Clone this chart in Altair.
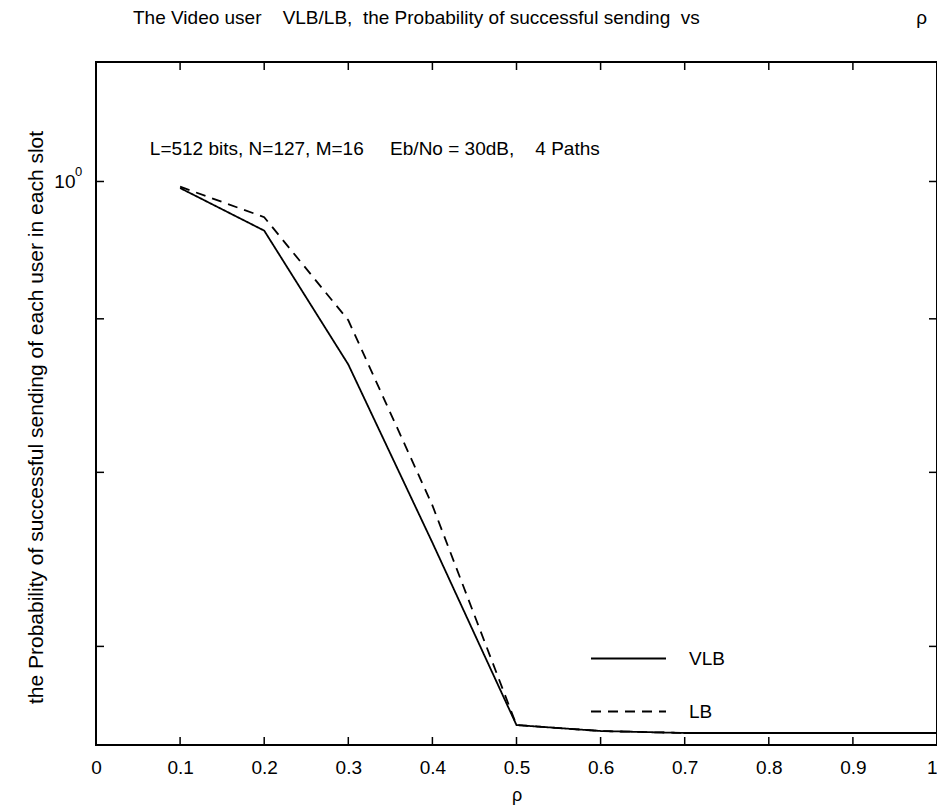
import altair as alt
import pandas as pd

# ---- data ----
rho = [0.1, 0.2, 0.3, 0.4, 0.5, 0.6, 0.7, 0.8, 0.9, 1.0]
vlb = [0.995, 0.963, 0.869, 0.758, 0.659, 0.656, 0.655, 0.655, 0.655, 0.655]
lb = [0.996, 0.973, 0.899, 0.780, 0.659, 0.656, 0.655, 0.655, 0.655, 0.655]
series_names = ["VLB", "LB"]
x_tick_values = [0, 0.1, 0.2, 0.3, 0.4, 0.5, 0.6, 0.7, 0.8, 0.9, 1.0]
x_inner_ticks = [0.1, 0.2, 0.3, 0.4, 0.5, 0.6, 0.7, 0.8, 0.9]
y_tick_values = [0.7, 0.8, 0.9, 1.0]
y_label_values = [1.0]

NB = "\u00a0"
title_text = ("The Video user" + NB * 3 + " VLB/LB," + NB + " the Probability of successful sending"
              + NB + " vs" + NB * 40 + " ρ")
note_text = "L=512 bits, N=127, M=16" + NB * 4 + " Eb/No = 30dB," + NB * 3 + " 4 Paths"
y_title = "the Probability of successful sending of each user in each slot"

W, H = 841, 683
FONT = "Liberation Sans"

df = pd.DataFrame({
    "rho": rho * 2,
    "p": vlb + lb,
    "series": ["VLB"] * len(rho) + ["LB"] * len(rho),
})
xt_df = pd.DataFrame({"rho": x_inner_ticks})
yt_df = pd.DataFrame({"p": y_tick_values})
yl_df = pd.DataFrame({"p": y_label_values, "sup": ["0"]})
note_df = pd.DataFrame({"rho": [0.064], "p": [1.025], "txt": [note_text]})

xscale = alt.Scale(domain=[0, 1], nice=False, zero=False)
yscale = alt.Scale(type="log", domain=[0.649, 1.096], nice=False)

dash_scale = alt.Scale(domain=series_names, range=[[1, 0], [10, 7]])

x_enc = alt.X("rho:Q", scale=xscale,
              axis=alt.Axis(values=x_tick_values, format=".1~f", title="ρ",
                            domain=False, ticks=False, grid=False,
                            labelFont=FONT, labelFontSize=19, labelColor="black",
                            labelAlign={"condition": {"test": "datum.value >= 1", "value": "right"},
                                        "value": "center"},
                            labelPadding=13, titleFont=FONT, titleFontSize=18,
                            titleFontWeight="normal", titleColor="black",
                            titlePadding=9, labelFlush=False))
y_enc = alt.Y("p:Q", scale=yscale,
              axis=alt.Axis(values=y_label_values, labelExpr="'10'", title=y_title,
                            domain=False, ticks=False, grid=False,
                            labelFont=FONT, labelFontSize=19, labelColor="black",
                            labelPadding=21, titleFont=FONT, titleFontSize=21,
                            titleFontWeight="normal", titleColor="black",
                            titlePadding=7, titleY=355))

legend = alt.Legend(title=None, orient="none", legendX=494, legendY=558,
                    symbolType="stroke", symbolSize=5625, symbolStrokeWidth=1.8,
                    symbolStrokeColor="black", labelFont=FONT, labelFontSize=19,
                    labelColor="black", labelOffset=22, rowPadding=4,
                    direction="vertical")

lb_line = alt.Chart(df).transform_filter(alt.datum.series == "LB").mark_line(
    color="black", strokeWidth=1.8).encode(
    x=x_enc, y=y_enc,
    strokeDash=alt.StrokeDash("series:N", scale=dash_scale, legend=legend),
)
vlb_line = alt.Chart(df).transform_filter(alt.datum.series == "VLB").mark_line(
    color="black", strokeWidth=1.8).encode(
    x=alt.X("rho:Q"), y=alt.Y("p:Q"),
    strokeDash=alt.StrokeDash("series:N", scale=dash_scale, legend=legend),
)

tick_color = "black"
bottom_ticks = alt.Chart(xt_df).mark_rule(color=tick_color, strokeWidth=1.5).encode(
    x=alt.X("rho:Q"), y=alt.value(H), y2=alt.value(H - 8))
top_ticks = alt.Chart(xt_df).mark_rule(color=tick_color, strokeWidth=1.5).encode(
    x=alt.X("rho:Q"), y=alt.value(0), y2=alt.value(8))
left_ticks = alt.Chart(yt_df).mark_rule(color=tick_color, strokeWidth=1.5).encode(
    y=alt.Y("p:Q"), x=alt.value(0), x2=alt.value(8))
right_ticks = alt.Chart(yt_df).mark_rule(color=tick_color, strokeWidth=1.5).encode(
    y=alt.Y("p:Q"), x=alt.value(W - 8), x2=alt.value(W))

sup = alt.Chart(yl_df).mark_text(font=FONT, fontSize=13, color="black",
                                 align="left", baseline="middle", dy=-9).encode(
    y=alt.Y("p:Q"), x=alt.value(-21), text="sup:N")

note = alt.Chart(note_df).mark_text(font=FONT, fontSize=19, color="black",
                                    align="left", baseline="middle").encode(
    x=alt.X("rho:Q"), y=alt.Y("p:Q"), text="txt:N")

chart = alt.layer(
    lb_line, vlb_line, bottom_ticks, top_ticks, left_ticks, right_ticks, sup, note
).properties(
    width=W, height=H,
    background="white",
    title=alt.TitleParams(title_text, anchor="start", frame="group", dx=37, offset=33,
                          font=FONT, fontSize=19, fontWeight="normal", color="black"),
    autosize=alt.AutoSizeParams(type="none"),
    padding={"left": 88, "top": 54, "right": 0, "bottom": 60},
).configure_view(
    stroke="black", strokeWidth=2
)

chart.save("out.html", embed_options={"renderer": "svg", "actions": False})
